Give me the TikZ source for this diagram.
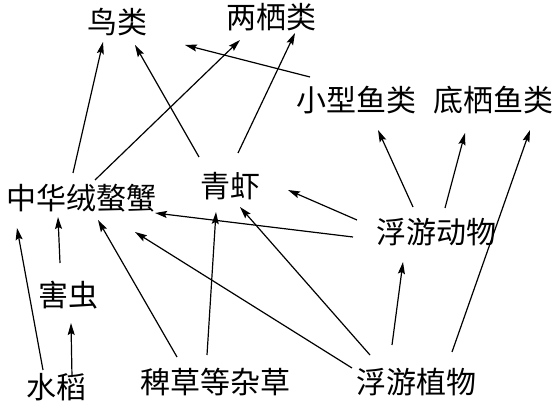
\documentclass[tikz,border=0pt]{standalone}
\usepackage{fontspec}
\newfontfamily\cjk{Noto Sans CJK SC}
\usetikzlibrary{arrows.meta}
\tikzset{
  lbl/.style={inner sep=0pt, anchor=center, font=\cjk\fontsize{30}{32}\selectfont},
  arr/.style={line width=1.2pt, -{Stealth[length=12pt,width=7pt,inset=2pt]}}
}
\begin{document}
\begin{tikzpicture}[x=1pt,y=-1pt]
\useasboundingbox (0,0) rectangle (554,403);
% nodes
\node[lbl] (bird) at (117,22) {鸟类};
\node[lbl] (amph) at (271,17) {两栖类};
\node[lbl] (smallfish) at (356,100) {小型鱼类};
\node[lbl] (benthic) at (493,100) {底栖鱼类};
\node[lbl] (crab) at (81,198) {中华绒螯蟹};
\node[lbl] (shrimp) at (230,186) {青虾};
\node[lbl] (zoo) at (436,232) {浮游动物};
\node[lbl] (pest) at (68,295) {害虫};
\node[lbl] (rice) at (57,387) {水稻};
\node[lbl] (weed) at (215,382) {稗草等杂草};
\node[lbl] (phyto) at (416,382) {浮游植物};
% connectors
\draw[arr] ([xshift=-8pt,yshift=25pt]crab.center) -- ([xshift=-14pt,yshift=-20pt]bird.center);
\draw[arr] ([xshift=14pt,yshift=18pt]crab.center) -- ([xshift=-31pt,yshift=-23pt]amph.center);
\draw[arr] ([xshift=-31pt,yshift=29pt]shrimp.center) -- ([xshift=18pt,yshift=-23pt]bird.center);
\draw[arr] ([xshift=8pt,yshift=33pt]shrimp.center) -- ([xshift=24pt,yshift=-16pt]amph.center);
\draw[arr] ([xshift=-46pt,yshift=23pt]smallfish.center) -- ([xshift=68pt,yshift=-23pt]bird.center);
\draw[arr] ([xshift=-23pt,yshift=25pt]zoo.center) -- ([xshift=22pt,yshift=-30pt]smallfish.center);
\draw[arr] ([xshift=9pt,yshift=24pt]zoo.center) -- ([xshift=-28pt,yshift=-33pt]benthic.center);
\draw[arr] ([xshift=36pt,yshift=30pt]phyto.center) -- ([xshift=37pt,yshift=-30pt]benthic.center);
\draw[arr] ([xshift=-79pt,yshift=12pt]zoo.center) -- ([xshift=58pt,yshift=-4pt]shrimp.center);
\draw[arr] ([xshift=-83pt,yshift=-5pt]zoo.center) -- ([xshift=74pt,yshift=-15pt]crab.center);
\draw[arr] ([xshift=-14pt,yshift=17pt]rice.center) -- ([xshift=-64pt,yshift=-30pt]crab.center);
\draw[arr] ([xshift=-8pt,yshift=32pt]pest.center) -- ([xshift=-23pt,yshift=-19pt]crab.center);
\draw[arr] ([xshift=15pt,yshift=10pt]rice.center) -- ([xshift=3pt,yshift=-28pt]pest.center);
\draw[arr] ([xshift=-38pt,yshift=25pt]weed.center) -- ([xshift=17pt,yshift=-22pt]crab.center);
\draw[arr] ([xshift=-8pt,yshift=27pt]weed.center) -- ([xshift=-14pt,yshift=-26pt]shrimp.center);
\draw[arr] ([xshift=-64pt,yshift=14pt]phyto.center) -- ([xshift=54pt,yshift=-34pt]crab.center);
\draw[arr] ([xshift=-46pt,yshift=27pt]phyto.center) -- ([xshift=10pt,yshift=-21pt]shrimp.center);
\draw[arr] ([xshift=-24pt,yshift=37pt]phyto.center) -- ([xshift=-33pt,yshift=-30pt]zoo.center);
\end{tikzpicture}
\end{document}
